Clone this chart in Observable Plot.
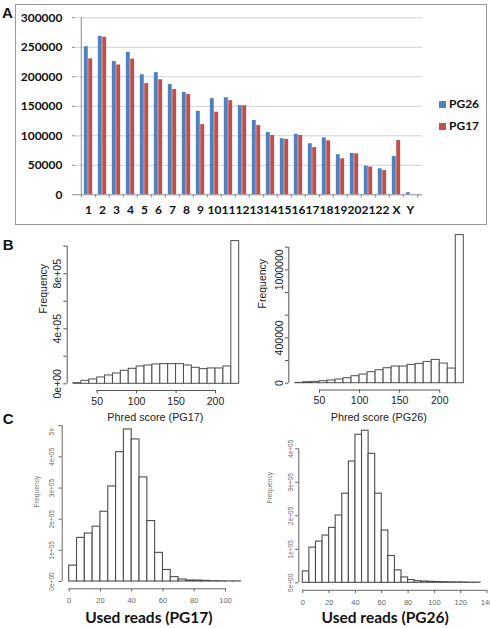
<!DOCTYPE html>
<html><head><meta charset="utf-8">
<script src="https://cdn.jsdelivr.net/npm/d3@7"></script>
<script src="https://cdn.jsdelivr.net/npm/@observablehq/plot@0.6"></script>
<style>
body{margin:0;background:#fff;}
#root{position:relative;width:490px;height:628px;overflow:hidden;background:#fff;}
.plbl{position:absolute;font:bold 15px "Liberation Sans",Arial,sans-serif;line-height:15px;color:#111;}
.leg{position:absolute;font:bold 12px Lato,sans-serif;line-height:12px;color:#111;}
.sw{position:absolute;width:7px;height:7px;}
</style></head><body><div id="root"></div>
<script>
// ---------- Panel A data ----------
const chroms = ["1","2","3","4","5","6","7","8","9","10","11","12","13","14","15","16","17","18","19","20","21","22","X","Y"];
const pg26 = [251000,268500,226000,241500,203500,207000,187000,173500,141500,163000,164500,151000,126000,105500,95000,102500,86500,96500,68000,70000,48500,44000,65000,3500];
const pg17 = [230500,267000,220000,230000,188500,195000,178500,170000,119000,140000,159500,151000,117500,100500,94000,100500,80000,91500,61000,69500,47000,41000,92000,0];
const seriesNames = ["PG26","PG17"];
const seriesColors = ["#4F81BD","#C0504D"];
const yTicksA = [0,50000,100000,150000,200000,250000,300000];
const yLabelsA = ["0","50000","100000","150000","200000","250000","300000"];

// ---------- Panel B data (Phred score histograms) ----------
const edgesB = [20,30,40,50,60,70,80,90,100,110,120,130,140,150,160,170,180,190,200,210,220,230];
const phredPG17 = [4800,21800,31500,46000,60600,75100,94500,109000,126000,133000,140600,143000,143000,143000,133000,116400,106700,111500,111500,126000,1037000];
const phredPG26 = [2900,8800,11700,17600,23500,32300,44000,61700,76400,96900,114500,132200,146800,146800,161500,170300,188000,205600,173300,129200,1307000];
const xTicksB = [50,100,150,200];
const yTicksB17 = [0,200000,400000,600000,800000,1000000];
const yLabelsB17 = ["0e+00","","4e+05","","8e+05",""];
const yTicksB26 = [0,200000,400000,600000,800000,1000000,1200000];
const yLabelsB26 = ["0","","400000","","","1000000",""];

// ---------- Panel C data (used reads histograms) ----------
const edgesC17 = [0,5,10,15,20,25,30,35,40,45,50,55,60,65,70,75,80,85,90,95,100,105,110];
const usedPG17 = [51000,140000,154000,176000,224000,305000,415000,488000,456000,334000,194000,92000,37000,14000,6400,3200,3000,2000,1000,800,300,300];
const edgesC26 = [0,5,10,15,20,25,30,35,40,45,50,55,60,65,70,75,80,85,90,95,100,105,110,115,120,125,130,135];
const usedPG26 = [34000,105000,123000,141000,164000,201000,266000,362000,442000,454000,385000,266000,156000,80000,37000,16000,8000,5000,4000,3000,2500,2000,1500,1200,1000,500,400];
const xTicksC17 = [0,20,40,60,80,100];
const xTicksC26 = [0,20,40,60,80,100,120,140];
const yTicksC17 = [0,100000,200000,300000,400000,500000];
const yLabelsC17 = ["0e+00","1e+05","2e+05","3e+05","4e+05",""];
const yTicksC26 = [0,100000,200000,300000,400000];
const yLabelsC26 = ["0e+00","1e+05","2e+05","3e+05","4e+05"];

const root = document.getElementById("root");
function place(el, left, top) {
  el.style.position = "absolute";
  el.style.left = left + "px";
  el.style.top = top + "px";
  root.appendChild(el);
}

// ---------- Panel A ----------
const rowsA = chroms.map((c, i) => ({chr: c, PG26: pg26[i], PG17: pg17[i]}));
const WA = 490, mLA = 75, mRA = 68;
const stepA = (WA - mLA - mRA) / chroms.length;
const barW = 4.4;
const axisGray = "#8c8c8c";
const plotA = Plot.plot({
  width: WA, height: 228,
  marginLeft: mLA, marginRight: mRA, marginTop: 17.3, marginBottom: 33.7,
  style: {fontFamily: "Lato, sans-serif", fontSize: "12px", fontWeight: "bold", background: "transparent", color: "#111"},
  x: {type: "band", domain: chroms, padding: 0, axis: null},
  y: {domain: [0, 300000], axis: null},
  marks: [
    Plot.ruleY(yTicksA.slice(1), {stroke: "#d2d2d2"}),
    Plot.barY(rowsA, {x: "chr", y: seriesNames[0], fill: seriesColors[0], insetLeft: stepA / 2 - barW, insetRight: stepA / 2}),
    Plot.barY(rowsA, {x: "chr", y: seriesNames[1], fill: seriesColors[1], insetLeft: stepA / 2, insetRight: stepA / 2 - barW}),
    Plot.ruleY([0], {stroke: axisGray}),
    Plot.ruleX([chroms[0]], {y1: 0, y2: 300000, dx: -stepA / 2, stroke: axisGray}),
    Plot.ruleX(chroms, {y1: 0, y2: -5500, dx: -stepA / 2, stroke: axisGray}),
    Plot.ruleX([chroms[chroms.length - 1]], {y1: 0, y2: -5500, dx: stepA / 2, stroke: axisGray}),
    Plot.axisY({ticks: yTicksA, tickSize: 3, tickPadding: 10, stroke: axisGray, label: null,
      tickFormat: d => yLabelsA[yTicksA.indexOf(d)]}),
    Plot.axisX({ticks: chroms, tickSize: 0, tickPadding: 11, label: null})
  ]
});
place(plotA, 0, 0);

// frame border of panel A
const border = document.createElement("div");
border.style.cssText = "position:absolute;left:15px;top:4px;width:472px;height:221px;border:1px solid #9a9a9a;box-sizing:border-box;";
root.appendChild(border);

// legend
[[seriesNames[0], seriesColors[0], 100.7], [seriesNames[1], seriesColors[1], 122.7]].forEach(([n, c, y]) => {
  const sw = document.createElement("div");
  sw.className = "sw"; sw.style.left = "439px"; sw.style.top = y + "px"; sw.style.background = c;
  root.appendChild(sw);
  const t = document.createElement("div");
  t.className = "leg"; t.style.left = "449px"; t.style.top = (y - 2.5) + "px"; t.textContent = n;
  root.appendChild(t);
});

// ---------- histogram helper ----------
function hist(cfg) {
  const rows = cfg.counts.map((c, i) => ({x1: cfg.edges[i], x2: cfg.edges[i + 1], y0: 0, y: c}));
  const yt = cfg.yTicks;
  return Plot.plot({
    width: cfg.width, height: cfg.height,
    marginLeft: cfg.mL, marginRight: cfg.mR, marginTop: cfg.mT, marginBottom: cfg.mB,
    style: {fontFamily: '"Liberation Sans", Arial, sans-serif', fontSize: cfg.xfs + "px", background: "transparent", color: cfg.textColor},
    x: {domain: [cfg.edges[0], cfg.edges[cfg.edges.length - 1]], axis: null},
    y: {domain: [0, yt[yt.length - 1]], axis: null},
    marks: [
      Plot.rect(rows, {x1: "x1", x2: "x2", y1: "y0", y2: "y", fill: "white", stroke: cfg.barStroke, strokeWidth: cfg.barSW, inset: 0}),
      Plot.ruleY([0], {x1: cfg.xTicks[0], x2: cfg.xTicks[cfg.xTicks.length - 1], dy: cfg.xDy, stroke: cfg.axisColor}),
      Plot.axisX({ticks: cfg.xTicks, tickSize: cfg.tick, tickPadding: cfg.xPad, dy: cfg.xDy, stroke: cfg.axisColor,
        fill: cfg.textColor, fontSize: cfg.xfs, label: null, tickFormat: d => String(d)}),
      Plot.ruleX([cfg.edges[0]], {y1: yt[0], y2: yt[yt.length - 1], dx: cfg.yDx, stroke: cfg.axisColor}),
      Plot.axisY({ticks: yt, tickSize: cfg.tick, tickRotate: -90, tickPadding: cfg.yPad, dx: cfg.yDx, stroke: cfg.axisColor,
        fill: cfg.textColor, fontSize: cfg.yfs, label: null, tickFormat: d => cfg.yLabels[yt.indexOf(d)]}),
      Plot.text([cfg.ylabel], {frameAnchor: "left", rotate: -90, dx: cfg.ylDx, dy: cfg.ylDy, fontSize: cfg.ylfs, fill: cfg.ylColor}),
      Plot.text([cfg.xlabel], {frameAnchor: "bottom", dx: cfg.xlDx, dy: cfg.xlDy, fontSize: cfg.xlfs,
        fontWeight: cfg.xlWeight, fontFamily: cfg.xlFont, fill: cfg.xlColor, lineAnchor: "middle"}),
      ...(cfg.extra || [])
    ]
  });
}

// ---------- Panel B ----------
const bCommon = {width: 245, height: 200, tick: 3.3, xPad: 3.5, yPad: 2.9, xfs: 10.5, yfs: 10.5, ylfs: 10.5, xlfs: 10.8,
  textColor: "#222", axisColor: "#555", barStroke: "#4d4d4d", barSW: 1, ylColor: "#222", xlColor: "#222",
  xlWeight: "normal", xlFont: '"Liberation Sans", Arial, sans-serif', ylabel: "Frequency"};
const plotB1 = hist({...bCommon, edges: edgesB, counts: phredPG17, xTicks: xTicksB, yTicks: yTicksB17, yLabels: yLabelsB17,
  mL: 73.0, mR: 6.3, mT: 17.7, mB: 44.7, xDy: 6.7, yDx: -6.3, ylDx: -29.7, ylDy: -1.5,
  xlabel: "Phred score (PG17)", xlDx: -1, xlDy: 33.4});
place(plotB1, 0, 228);
const plotB2 = hist({...bCommon, edges: edgesB, counts: phredPG26, xTicks: xTicksB, yTicks: yTicksB26, yLabels: yLabelsB26,
  mL: 49.9, mR: 26.7, mT: 18.7, mB: 45.3, xDy: 6.8, yDx: -6.6, ylDx: -33.2, ylDy: -6.7,
  xlabel: "Phred score (PG26)", xlDx: -0.8, xlDy: 34});
place(plotB2, 245, 228);

// ---------- Panel C ----------
const cCommon = {width: 245, height: 213, tick: 3.2, xfs: 7.5, yfs: 6.5, ylfs: 6.7, xlfs: 15.5,
  textColor: "#666", axisColor: "#666", barStroke: "#4d4d4d", barSW: 1.1, ylColor: "#777", xlColor: "#111",
  xlWeight: "bold", xlFont: "Lato, sans-serif", ylabel: "Frequency"};
const plotC1 = hist({...cCommon, edges: edgesC17, counts: usedPG17, xTicks: xTicksC17, yTicks: yTicksC17, yLabels: yLabelsC17,
  mL: 68.7, mR: 4.4, mT: 10.2, mB: 47, xDy: 7.3, xPad: 5.2, yDx: -7, yPad: 4.5, ylDx: -32, ylDy: 3.6,
  xlabel: "Used reads (PG17)", xlDx: -6.2, xlDy: 36.7,
  extra: [Plot.text(["5e"], {frameAnchor: "left", y: [500000], dx: -7 - 3.2 - 4.5 - 2.3, dy: 9.5, rotate: -90,
    textAnchor: "start", fontSize: 6.5, fill: "#666"})]});
place(plotC1, 0, 415);
const plotC2 = hist({...cCommon, edges: edgesC26, counts: usedPG26, xTicks: xTicksC26, yTicks: yTicksC26, yLabels: yLabelsC26,
  mL: 57.3, mR: 10, mT: 33.3, mB: 45.7, xDy: 7.5, xPad: 6.5, yDx: -4, yPad: 2.2, ylDx: -33, ylDy: -12.3,
  xlabel: "Used reads (PG26)", xlDx: -6.5, xlDy: 35.4});
place(plotC2, 245, 415);

// ---------- panel letters ----------
[["A", 2, 4.7], ["B", 2.7, 237.3], ["C", 2.7, 410.7]].forEach(([t, x, y]) => {
  const d = document.createElement("div");
  d.className = "plbl"; d.style.left = x + "px"; d.style.top = y + "px"; d.textContent = t;
  root.appendChild(d);
});
</script></body></html>
